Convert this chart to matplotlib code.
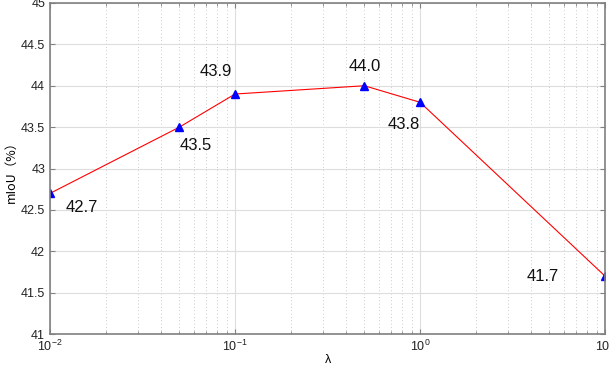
import numpy as np
import matplotlib.pyplot as plt
from matplotlib.ticker import LogLocator, NullFormatter

plt.rcParams['font.family'] = ['Liberation Sans', 'DejaVu Sans']

lam = [0.01, 0.05, 0.1, 0.5, 1.0, 10.0]
miou = [42.7, 43.5, 43.9, 44.0, 43.8, 41.7]
labels = ['42.7', '43.5', '43.9', '44.0', '43.8', '41.7']
# label offsets in points (dx, dy) and alignment
offs = [(11, -10, 'left'), (0, -13, 'left'), (-2, 16, 'right'),
        (0, 14, 'center'), (0, -16, 'right'), (-33, 0, 'right')]

fig = plt.figure(figsize=(6.1, 3.68), dpi=100)
ax = fig.add_axes([0.082, 0.092, 0.91, 0.90])

ax.plot(lam, miou, color='red', lw=0.8, marker='^', ms=6,
        markerfacecolor='blue', markeredgecolor='blue')
for x, y, t, (dx, dy, ha) in zip(lam, miou, labels, offs):
    ax.annotate(t, (x, y), xytext=(dx, dy), textcoords='offset points',
                fontsize=12, ha=ha, va='center', color='#111111')

ax.set_xscale('log')
ax.set_xlim(0.01, 10)
ax.set_ylim(41, 45)
ax.set_yticks(np.arange(41, 45.01, 0.5))
ax.set_yticklabels(['41', '41.5', '42', '42.5', '43', '43.5', '44', '44.5', '45'])
ax.xaxis.set_minor_locator(LogLocator(base=10, subs=np.arange(2, 10)))
ax.xaxis.set_minor_formatter(NullFormatter())

ax.grid(True, which='major', color='#dddddd', lw=0.8, ls='-')
ax.grid(True, which='minor', axis='x', color='#bbbbbb', lw=0.6, ls=(0, (1, 3)))
ax.set_axisbelow(True)

for s in ax.spines.values():
    s.set_color('#808080')
    s.set_linewidth(1.2)
ax.tick_params(which='both', direction='in', colors='#808080', labelcolor='#222222',
               labelsize=9, top=True, right=True)
ax.tick_params(which='minor', length=2)

ax.set_xlabel('λ', fontsize=9, labelpad=0)
ax.set_ylabel('mIoU（%）', fontsize=9, labelpad=2,
              family=['Noto Sans CJK SC', 'DejaVu Sans'])

fig.savefig('out.png', dpi=100)
